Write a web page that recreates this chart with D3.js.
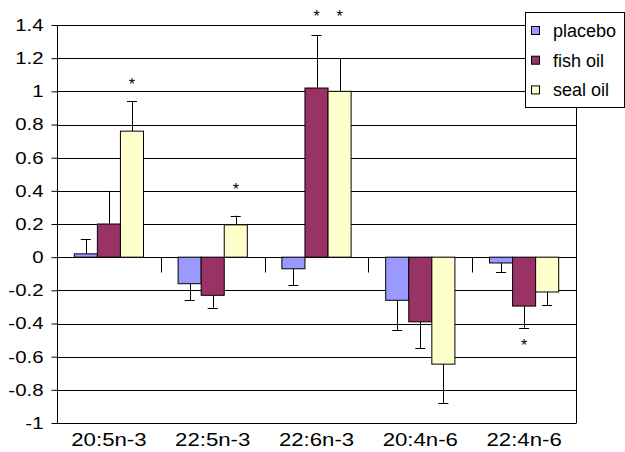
<!DOCTYPE html>
<html>
<head>
<meta charset="utf-8">
<script src="https://cdn.jsdelivr.net/npm/d3@7"></script>
<style>
  html, body { margin: 0; padding: 0; background: #fff; }
  svg { display: block; }
  text { font-family: "Liberation Sans", Arial, Helvetica, sans-serif; fill: #000; }
</style>
</head>
<body>
<svg id="chart" width="625" height="452"></svg>
<script>
// ---- data ----
const categories = ["20:5n-3", "22:5n-3", "22:6n-3", "20:4n-6", "22:4n-6"];
const seriesNames = ["placebo", "fish oil", "seal oil"];
const placebo = [0.02, -0.16, -0.07, -0.26, -0.035];
const fishOil = [0.20, -0.23, 1.02, -0.39, -0.295];
const sealOil = [0.76, 0.195, 1.00, -0.645, -0.21];
const placeboErr = [0.09, 0.10, 0.10, 0.18, 0.055];
const fishOilErr = [0.20, 0.075, 0.32, 0.16, 0.13];
const sealOilErr = [0.18, 0.055, 0.20, 0.235, 0.08];
const yTickValues = [-1, -0.8, -0.6, -0.4, -0.2, 0, 0.2, 0.4, 0.6, 0.8, 1, 1.2, 1.4];
const yTickLabels = ["-1", "-0.8", "-0.6", "-0.4", "-0.2", "0", "0.2", "0.4", "0.6", "0.8", "1", "1.2", "1.4"];
// significance markers: category, series, value at which the * sits
const starCats = ["20:5n-3", "22:5n-3", "22:6n-3", "22:6n-3", "22:4n-6"];
const starSeries = ["seal oil", "seal oil", "fish oil", "seal oil", "fish oil"];
const starVals = [1.06, 0.43, 1.47, 1.47, -0.51];

const colors = ["#9999FF", "#993366", "#FFFFCC"];

// ---- layout ----
const svg = d3.select("#chart");
const pLeft = 57, pRight = 576, pTop = 25, pBottom = 423;

const x = d3.scaleBand().domain(categories).range([pLeft, pRight]).padding(0);
const xs = d3.scaleBand().domain(seriesNames).range([0, x.bandwidth()])
  .paddingInner(0).paddingOuter(0.75);
const y = d3.scaleLinear().domain([-1, 1.4]).range([pBottom, pTop]);
const color = d3.scaleOrdinal().domain(seriesNames).range(colors);

const values = [placebo, fishOil, sealOil];
const errs = [placeboErr, fishOilErr, sealOilErr];
const rows = [];
seriesNames.forEach((s, si) => {
  categories.forEach((c, ci) => {
    rows.push({ series: s, cat: c, v: values[si][ci], e: errs[si][ci] });
  });
});

// gridlines
svg.append("g").selectAll("line").data(yTickValues).join("line")
  .attr("x1", pLeft).attr("x2", pRight)
  .attr("y1", d => Math.round(y(d)) + 0.5).attr("y2", d => Math.round(y(d)) + 0.5)
  .attr("stroke", "#000").attr("stroke-width", 1);

// right border
svg.append("line")
  .attr("x1", pRight + 0.5).attr("x2", pRight + 0.5)
  .attr("y1", Math.round(y(1.4)) + 0.5).attr("y2", Math.round(y(-1)) + 0.5)
  .attr("stroke", "#000");

// y axis
const yAxis = svg.append("g")
  .attr("transform", `translate(${pLeft + 0.5},0)`)
  .call(d3.axisLeft(y).tickValues(yTickValues).tickSize(6).tickPadding(0)
    .tickFormat((d, i) => yTickLabels[i]));
yAxis.select(".domain").attr("stroke", "#000").attr("d", `M0,${Math.round(y(1.4)) + 0.5}V${Math.round(y(-1)) + 0.5}`);
yAxis.selectAll(".tick line").attr("stroke", "#000");
yAxis.selectAll(".tick text")
  .attr("x", 0)
  .attr("transform", "translate(-14,0) scale(1.2,1)")
  .attr("font-size", 17).attr("font-family", "Liberation Sans, Arial, sans-serif")
  .attr("fill", "#000");

// category separators at zero line
const zeroY = Math.round(y(0)) + 0.5;
svg.append("g").selectAll("line").data(categories.slice(1)).join("line")
  .attr("x1", d => Math.round(x(d)) + 0.5).attr("x2", d => Math.round(x(d)) + 0.5)
  .attr("y1", zeroY).attr("y2", zeroY + 15)
  .attr("stroke", "#000");

// bars
svg.append("g").selectAll("rect").data(rows).join("rect")
  .attr("x", d => x(d.cat) + xs(d.series))
  .attr("width", xs.bandwidth())
  .attr("y", d => Math.min(y(d.v), y(0)))
  .attr("height", d => Math.abs(y(d.v) - y(0)))
  .attr("fill", d => color(d.series))
  .attr("stroke", "#000").attr("stroke-width", 1);

// error bars (one direction, away from zero)
const eb = svg.append("g").selectAll("g").data(rows).join("g");
eb.append("line")
  .attr("x1", d => Math.round(x(d.cat) + xs(d.series) + xs.bandwidth() / 2) + 0.5)
  .attr("x2", d => Math.round(x(d.cat) + xs(d.series) + xs.bandwidth() / 2) + 0.5)
  .attr("y1", d => y(d.v))
  .attr("y2", d => y(d.v + Math.sign(d.v) * d.e))
  .attr("stroke", "#000");
eb.append("line")
  .attr("x1", d => x(d.cat) + xs(d.series) + xs.bandwidth() / 2 - 5)
  .attr("x2", d => x(d.cat) + xs(d.series) + xs.bandwidth() / 2 + 5)
  .attr("y1", d => Math.round(y(d.v + Math.sign(d.v) * d.e)) + 0.5)
  .attr("y2", d => Math.round(y(d.v + Math.sign(d.v) * d.e)) + 0.5)
  .attr("stroke", "#000");

// stars
svg.append("g").selectAll("text").data(starVals).join("text")
  .attr("x", (d, i) => x(starCats[i]) + xs(starSeries[i]) + xs.bandwidth() / 2)
  .attr("y", d => y(d) + 9)
  .attr("text-anchor", "middle")
  .attr("font-size", 16)
  .text("*");

// x labels
svg.append("g").selectAll("text").data(categories).join("text")
  .attr("transform", d => `translate(${x(d) + x.bandwidth() / 2},446) scale(1.2,1)`)
  .attr("text-anchor", "middle")
  .attr("font-size", 18.5)
  .text(d => d);

// legend
const lg = svg.append("g");
lg.append("rect").attr("x", 525.5).attr("y", 12.5).attr("width", 99).attr("height", 95)
  .attr("fill", "#fff").attr("stroke", "#000");
const li = lg.selectAll("g").data(seriesNames).join("g")
  .attr("transform", (d, i) => `translate(531,${30.5 + i * 29.7})`);
li.append("rect").attr("x", 0.5).attr("y", -4).attr("width", 8).attr("height", 8)
  .attr("fill", d => color(d)).attr("stroke", "#000");
li.append("text").attr("x", 22).attr("y", 6.5).attr("font-size", 18).text(d => d);
</script>
</body>
</html>
